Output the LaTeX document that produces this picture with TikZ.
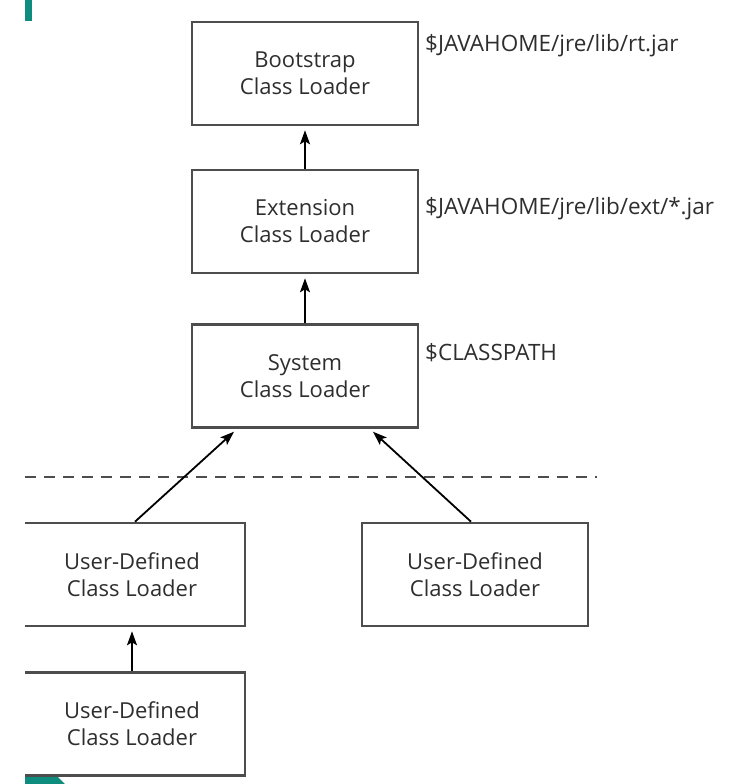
\documentclass[tikz,border=0pt]{standalone}
\usepackage{fontspec}
\setmainfont{Open Sans}
\usepackage{tikz}
\usetikzlibrary{arrows.meta, positioning, calc}
\definecolor{boxgray}{HTML}{4D4D4D}
\definecolor{txtgray}{HTML}{2E2E2E}
\definecolor{slideteal}{HTML}{0E8C7E}

\tikzset{
    loader/.style={draw=boxgray, line width=2.6pt, minimum width=226pt, minimum height=103pt,
        align=center, text=txtgray, font=\fontsize{22}{27}\selectfont},
    pathlabel/.style={anchor=west, text=txtgray, inner sep=0pt, font=\fontsize{22.5}{24}\selectfont},
    delegate/.style={-{Stealth[length=14pt,width=10pt,inset=3pt]}, line width=1.8pt, shorten >=4pt}
}

\begin{document}
\begin{tikzpicture}[x=1pt,y=-1pt]
    \useasboundingbox (0,0) rectangle (734,784);
    % Slide decoration
    \fill[slideteal] (25,0) rectangle (32,21);
    \fill[slideteal] (25,776) -- (57,776) -- (65,784) -- (25,784) -- cycle;

    \begin{scope}
    \clip (25,0) rectangle (734,784);
    % Parent loaders
    \node[loader] (boot) at (305,73.5) {Bootstrap\\Class Loader};
    \node[loader] (ext) at (305,221.5) {Extension\\Class Loader};
    \node[loader] (sys) at (305,376) {System\\Class Loader};

    % Where each one looks
    \node[pathlabel] (bootpath) at (425,46) {\$JAVAHOME/jre/lib/rt.jar};
    \node[pathlabel] (extpath) at (425,209) {\$JAVAHOME/jre/lib/ext/*.jar};
    \node[pathlabel] (syspath) at (425,353) {\$CLASSPATH};

    % Boundary between JVM loaders and user loaders
    \coordinate (dashL) at (25,477);
    \coordinate (dashR) at (597,477);
    \draw[boxgray, line width=1.8pt, dash pattern=on 11pt off 8pt] (dashL) -- (dashR);

    % User-defined loaders
    \node[loader] (udA) at (132,574.5) {User-Defined\\Class Loader};
    \node[loader] (udB) at (475,574.5) {User-Defined\\Class Loader};
    \node[loader] (udC) at (132,724) {User-Defined\\Class Loader};

    % Delegation
    \coordinate (sysL) at (237,429);
    \coordinate (sysR) at (370,429);
    \draw[delegate] (ext) -- (boot);
    \draw[delegate] (sys) -- (ext);
    \draw[delegate] (udA.north -| 135,0) -- (sysL);
    \draw[delegate] (udB.north -| 471,0) -- (sysR);
    \draw[delegate] (udC) -- (udA);
    \end{scope}
\end{tikzpicture}
\end{document}
